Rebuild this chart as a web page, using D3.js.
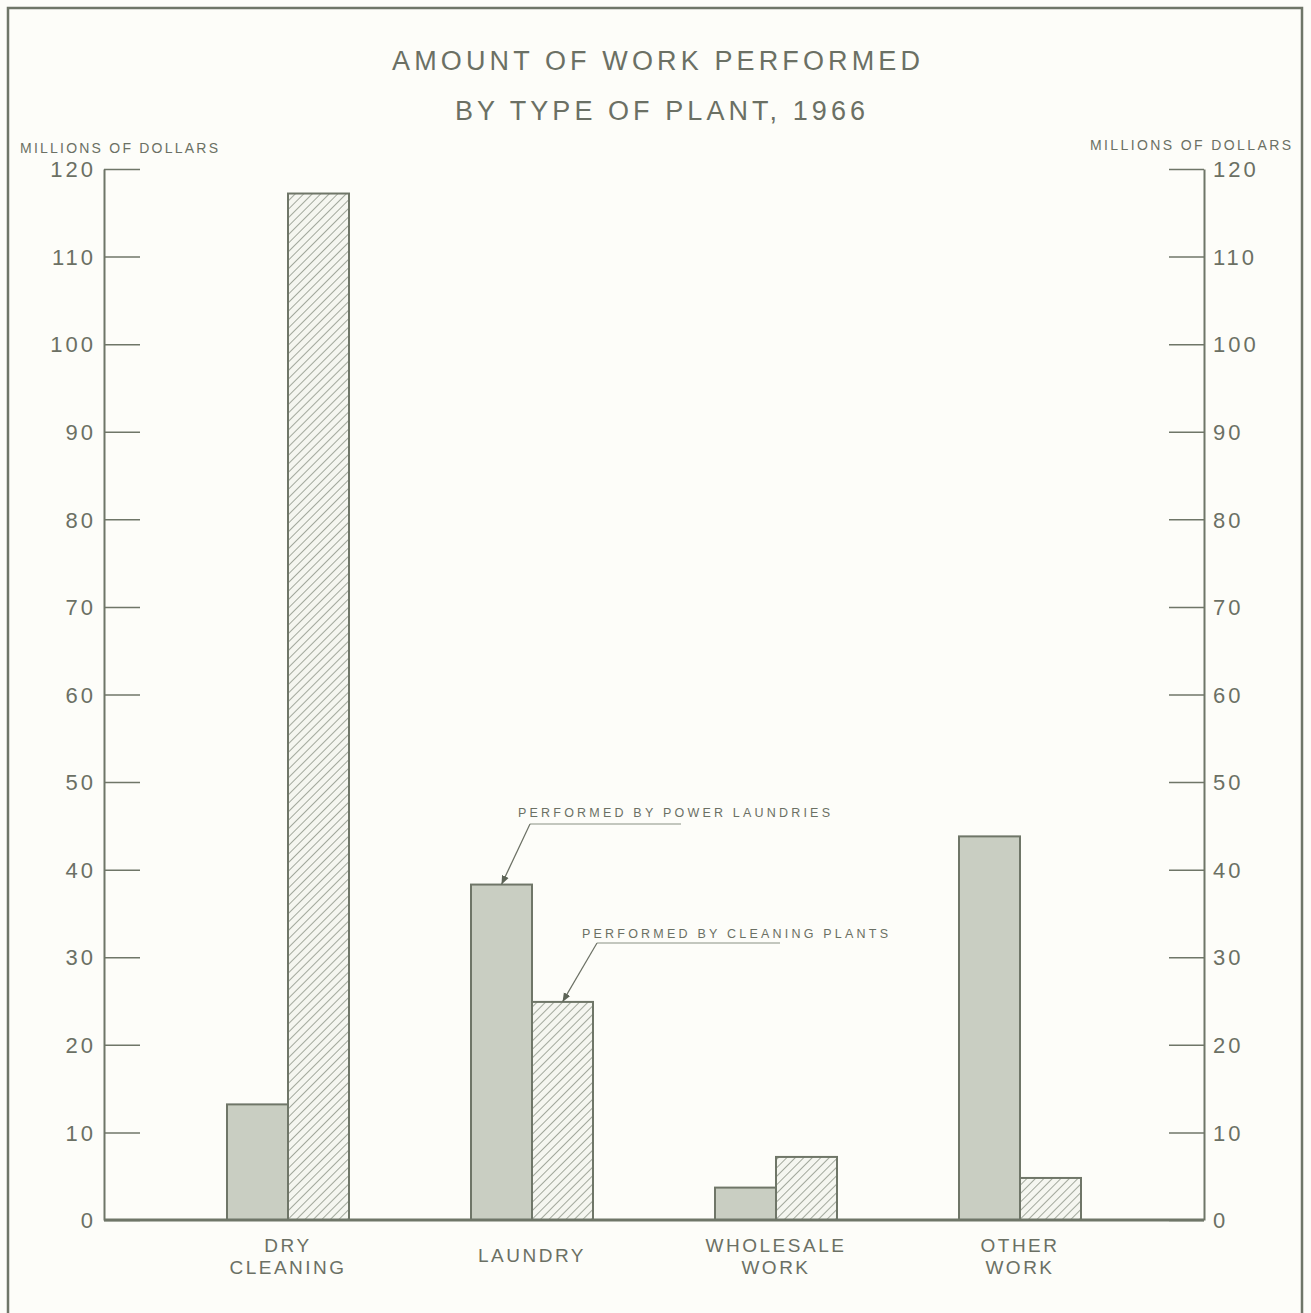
<!DOCTYPE html>
<html>
<head>
<meta charset="utf-8">
<script src="https://cdn.jsdelivr.net/npm/d3@7"></script>
<style>
  body { margin: 0; background: #fdfdf9; }
  svg { display: block; }
  text { font-family: "Liberation Sans", Arial, sans-serif; fill: #6b7064; }
</style>
</head>
<body>
<div id="myChart"></div>
<script>
// data (millions of dollars)
var categories = ["DRY CLEANING", "LAUNDRY", "WHOLESALE WORK", "OTHER WORK"];
var catLines = [["DRY", "CLEANING"], ["LAUNDRY"], ["WHOLESALE", "WORK"], ["OTHER", "WORK"]];
var powerLaundries = [13.2, 38.3, 3.7, 43.8];
var cleaningPlants = [117.2, 24.9, 7.2, 4.8];
var yTicks = [0, 10, 20, 30, 40, 50, 60, 70, 80, 90, 100, 110, 120];
var series = ["power", "cleaning"];

var W = 1311, H = 1313;
var ink = "#6f7668";

var svg = d3.select("#myChart")
    .append("svg")
    .attr("width", W).attr("height", H);

// hatch pattern for the cleaning plant bars
svg.append("defs")
    .append("pattern")
    .attr("id", "hatch")
    .attr("patternUnits", "userSpaceOnUse")
    .attr("width", 6).attr("height", 6)
    .attr("patternTransform", "rotate(45)")
    .call(function(p) {
        p.append("rect").attr("width", 6).attr("height", 6).attr("fill", "#f5f6f0");
        p.append("line").attr("x1", 0).attr("y1", 0).attr("x2", 0).attr("y2", 6)
            .attr("stroke", "#8d9486").attr("stroke-width", 1.6);
    });

// frame
svg.append("path")
    .attr("d", "M8,1313 V8 H1302 V1313")
    .attr("fill", "none")
    .attr("stroke", ink)
    .attr("stroke-width", 2.5);

var leftX = 104, rightX = 1204;

var y = d3.scaleLinear().domain([0, 120]).range([1220, 169]);

var x0 = d3.scaleBand().domain(categories).range([166, 1142]).padding(0);
var x1 = d3.scaleBand().domain(series).range([0, x0.bandwidth()]).paddingInner(0).paddingOuter(1);

// titles
svg.append("text").attr("x", 656).attr("y", 70)
    .attr("text-anchor", "middle").attr("font-size", 27)
    .attr("textLength", 528).attr("lengthAdjust", "spacing")
    .text("AMOUNT OF WORK PERFORMED");
svg.append("text").attr("x", 660).attr("y", 120)
    .attr("text-anchor", "middle").attr("font-size", 27)
    .attr("textLength", 410).attr("lengthAdjust", "spacing")
    .text("BY TYPE OF PLANT, 1966");

svg.append("text").attr("x", 20).attr("y", 153)
    .attr("font-size", 14)
    .attr("textLength", 198).attr("lengthAdjust", "spacing")
    .text("MILLIONS OF DOLLARS");
svg.append("text").attr("x", 1090).attr("y", 150)
    .attr("font-size", 14)
    .attr("textLength", 201).attr("lengthAdjust", "spacing")
    .text("MILLIONS OF DOLLARS");

// axes
var leftAxis = d3.axisLeft(y).tickValues(yTicks).tickSizeInner(-36).tickSizeOuter(0).tickPadding(8);
var rightAxis = d3.axisRight(y).tickValues(yTicks).tickSizeInner(-35).tickSizeOuter(0).tickPadding(9);

function styleAxis(g) {
    g.select(".domain").attr("stroke", ink).attr("stroke-width", 2);
    g.selectAll(".tick line").attr("stroke", ink).attr("stroke-width", 1.5);
    g.selectAll(".tick text")
        .attr("font-size", 22)
        .attr("font-family", "Liberation Sans, Arial, sans-serif")
        .attr("fill", "#6b7064")
        .attr("letter-spacing", 3)
        .attr("dy", "0.35em");
}

svg.append("g").attr("transform", "translate(" + leftX + ",0)")
    .call(leftAxis).call(styleAxis);
svg.append("g").attr("transform", "translate(" + rightX + ",0)")
    .call(rightAxis).call(styleAxis);

// bars
var groups = svg.selectAll("g.cat")
    .data(categories)
    .enter().append("g")
    .attr("class", "cat")
    .attr("transform", function(d) { return "translate(" + x0(d) + ",0)"; });

groups.append("rect")
    .attr("x", x1("power"))
    .attr("width", x1.bandwidth())
    .attr("y", function(d, i) { return y(powerLaundries[i]); })
    .attr("height", function(d, i) { return y(0) - y(powerLaundries[i]); })
    .attr("fill", "#c9cec2")
    .attr("stroke", ink).attr("stroke-width", 2);

groups.append("rect")
    .attr("x", x1("cleaning"))
    .attr("width", x1.bandwidth())
    .attr("y", function(d, i) { return y(cleaningPlants[i]); })
    .attr("height", function(d, i) { return y(0) - y(cleaningPlants[i]); })
    .attr("fill", "url(#hatch)")
    .attr("stroke", ink).attr("stroke-width", 2);

// baseline
svg.append("line")
    .attr("x1", leftX).attr("x2", rightX)
    .attr("y1", y(0)).attr("y2", y(0))
    .attr("stroke", ink).attr("stroke-width", 3);

// category labels
groups.each(function(d, i) {
    var lines = catLines[i];
    var cx = x0.bandwidth() / 2;
    var t = d3.select(this).append("text")
        .attr("text-anchor", "middle")
        .attr("font-size", 19)
        .attr("letter-spacing", 2.5);
    lines.forEach(function(s, j) {
        var yy = lines.length == 1 ? 1262 : 1252 + j * 22;
        t.append("tspan").attr("x", cx).attr("y", yy).text(s);
    });
});

// annotations with arrows
svg.select("defs").append("marker")
    .attr("id", "arrow")
    .attr("viewBox", "0 0 10 10")
    .attr("refX", 10).attr("refY", 5)
    .attr("markerWidth", 9).attr("markerHeight", 9)
    .attr("markerUnits", "userSpaceOnUse")
    .attr("orient", "auto")
    .append("path").attr("d", "M0,1 L10,5 L0,9 Z").attr("fill", "#5d6457");

var notes = [
    { text: "PERFORMED BY POWER LAUNDRIES", tx: 518, ty: 817, len: 312, ux1: 530, ux2: 681, uy: 824,
      cat: "LAUNDRY", s: "power", v: powerLaundries[1] },
    { text: "PERFORMED BY CLEANING PLANTS", tx: 582, ty: 938, len: 306, ux1: 597, ux2: 780, uy: 943,
      cat: "LAUNDRY", s: "cleaning", v: cleaningPlants[1] }
];

notes.forEach(function(n) {
    svg.append("text").attr("x", n.tx).attr("y", n.ty)
        .attr("font-size", 12.5)
        .attr("textLength", n.len).attr("lengthAdjust", "spacing")
        .text(n.text);
    svg.append("line")
        .attr("x1", n.ux1).attr("x2", n.ux2).attr("y1", n.uy).attr("y2", n.uy)
        .attr("stroke", "#8a9183").attr("stroke-width", 1.2);
    var tipX = x0(n.cat) + x1(n.s) + x1.bandwidth() / 2;
    var tipY = y(n.v);
    svg.append("line")
        .attr("x1", n.ux1).attr("y1", n.uy)
        .attr("x2", tipX).attr("y2", tipY)
        .attr("stroke", "#6b7064").attr("stroke-width", 1.2)
        .attr("marker-end", "url(#arrow)");
});
</script>
</body>
</html>
